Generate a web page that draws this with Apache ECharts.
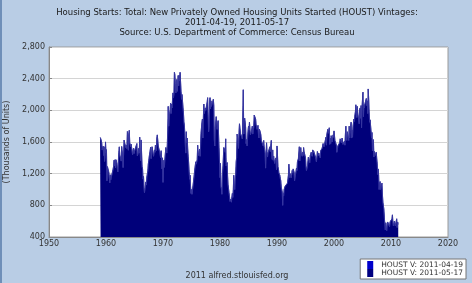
<!DOCTYPE html>
<html><head><meta charset="utf-8">
<script src="https://cdn.jsdelivr.net/npm/echarts@6/dist/echarts.min.js"></script>
<style>html,body{margin:0;padding:0;background:#b9cde5;}#c{width:472px;height:283px;box-sizing:border-box;border-left:2px solid #6f8fb8;}</style>
</head><body><div id="c"></div>
<script>
const titleLines = ["Housing Starts: Total: New Privately Owned Housing Units Started (HOUST) Vintages:", "2011-04-19, 2011-05-17", "Source: U.S. Department of Commerce: Census Bureau"];
const yAxisName = "(Thousands of Units)";
const footer = "2011 alfred.stlouisfed.org";
const seriesNames = ["HOUST V: 2011-04-19", "HOUST V: 2011-05-17"];
const xTicks = [1950, 1960, 1970, 1980, 1990, 2000, 2010, 2020];
const yTicks = [400, 800, 1200, 1600, 2000, 2400, 2800];
const startYear = 1959;
// monthly values, thousands of units (one row per year)
const monthly = [
1657,1667,1620,1590,1498,1503,1547,1430,1540,1355,1416,1601,
1460,1503,1109,1289,1266,1260,1215,1221,1084,1186,1122,1108,
1178,1198,1230,1240,1292,1370,1300,1376,1273,1376,1380,1327,
1259,1223,1359,1470,1539,1438,1440,1462,1359,1543,1524,1434,
1277,1435,1624,1593,1588,1570,1528,1561,1517,1733,1704,1496,
1688,1747,1592,1571,1540,1573,1556,1481,1440,1493,1520,1454,
1437,1505,1482,1486,1486,1580,1424,1422,1465,1520,1460,1661,
1461,1364,1626,1447,1290,1260,1131,1164,1027,960,984,978,
1096,1056,1160,1176,1235,1320,1365,1415,1422,1425,1535,1390,
1400,1540,1500,1520,1420,1450,1500,1470,1560,1580,1490,1650,
1690,1710,1550,1560,1550,1470,1470,1400,1490,1380,1260,1400,
1090,1270,1370,1280,1390,1380,1530,1540,1460,1560,1750,2050,
1800,1800,1960,2010,2090,1960,2080,2030,2050,2220,2160,2200,
2480,2450,2340,2220,2250,2390,2240,2340,2440,2310,2440,2370,
2480,2460,2240,2140,2200,2180,2190,1970,1860,1810,1700,1560,
1460,1730,1590,1650,1520,1420,1340,1230,1130,1180,1040,950,
1000,940,990,990,1090,1090,1200,1260,1250,1350,1320,1300,
1380,1560,1460,1430,1480,1510,1420,1530,1710,1720,1850,1890,
1650,1920,2080,1960,1960,2030,2000,2010,2070,2110,2160,2170,
1730,1780,2090,2160,2020,2120,2050,2030,2070,2070,2140,2060,
1630,1550,1780,1790,1920,1910,1760,1760,1870,1690,1530,1530,
1150,1330,1040,1010,940,1180,1270,1390,1530,1520,1530,1470,
1640,1300,1310,1340,1170,1060,1040,960,910,850,870,880,
840,910,950,900,1000,1180,1050,1000,1120,1190,1350,1400,
1700,1710,1610,1520,1720,1830,1780,1710,1690,1710,1730,1640,
1940,2260,1700,1860,1900,1850,1780,1580,1630,1550,1650,1740,
1800,1750,1850,1850,1690,1710,1730,1720,1800,1700,1750,1780,
1940,1960,1920,1890,1820,1800,1760,1740,1810,1690,1650,1760,
1770,1720,1690,1620,1640,1610,1620,1550,1620,1540,1540,1460,
1270,1460,1590,1480,1410,1460,1440,1460,1450,1540,1480,1560,
1620,1420,1380,1500,1370,1420,1370,1330,1370,1350,1400,1250,
1550,1440,1290,1260,1210,1230,1180,1140,1110,1030,1030,970,
800,950,920,1000,1000,1040,1040,1050,1030,1050,1080,1090,
1180,1320,1230,1150,1200,1200,1150,1190,1240,1210,1260,1280,
1220,1110,1110,1190,1230,1270,1240,1350,1330,1390,1400,1540,
1360,1380,1530,1460,1460,1420,1470,1430,1530,1480,1470,1460,
1400,1300,1240,1260,1290,1290,1410,1400,1400,1340,1430,1420,
1470,1480,1420,1500,1460,1490,1480,1490,1510,1410,1380,1350,
1360,1480,1500,1430,1460,1430,1450,1400,1490,1480,1490,1520,
1530,1580,1580,1540,1560,1600,1590,1660,1560,1700,1680,1760,
1760,1710,1780,1570,1650,1580,1680,1640,1600,1610,1690,1660,
1740,1680,1620,1620,1600,1560,1470,1500,1550,1550,1530,1540,
1590,1640,1640,1620,1590,1650,1630,1570,1560,1560,1610,1560,
1700,1800,1650,1620,1730,1690,1660,1620,1800,1650,1730,1790,
1850,1650,1750,1660,1800,1840,1890,1860,1940,1980,2070,2050,
1910,2050,1970,1960,1980,1830,2000,2030,1900,2060,1780,2040,
2140,2230,1920,2070,2030,2080,2060,2100,2150,2060,2120,1960,
2270,2150,1980,1850,1880,1810,1740,1650,1720,1490,1570,1630,
1410,1480,1490,1490,1430,1470,1390,1330,1190,1260,1180,1000,
1070,1100,1000,1010,980,1080,930,840,820,750,650,560,
490,580,520,480,550,590,590,600,590,530,590,580,
610,600,630,680,590,540,550,600,600,540,550,520,
630,520,590,560
];
const data = monthly.map((v, i) => [startYear + i / 12, v]);
const chart = echarts.init(document.getElementById('c'), null, {renderer: 'canvas'});
const font = 'DejaVu Sans';
chart.setOption({
  animation: false,
  backgroundColor: '#b9cde5',
  title: {
    text: titleLines.join('\n'), left: 'center', top: 3,
    textStyle: {fontFamily: font, fontSize: 8.5, fontWeight: 'normal', color: '#1a1a1a', lineHeight: 10}
  },
  grid: {left: 47, right: 24, top: 47, bottom: 46, outerBoundsMode: 'none', containLabel: false, show: true, backgroundColor: '#fff', borderColor: '#9a9a9a', borderWidth: 1},
  xAxis: {
    type: 'value', min: xTicks[0], max: xTicks[xTicks.length - 1], interval: 10,
    axisLine: {lineStyle: {color: '#888'}}, axisTick: {show: false}, splitLine: {show: false},
    axisLabel: {fontFamily: font, fontSize: 8, color: '#333', margin: 3, formatter: v => String(v)}
  },
  yAxis: {
    type: 'value', min: yTicks[0], max: yTicks[yTicks.length - 1], interval: 400,
    name: yAxisName, nameLocation: 'middle', nameGap: 33, nameRotate: 90,
    nameTextStyle: {fontFamily: font, fontSize: 8, color: '#333'},
    axisLine: {show: true, lineStyle: {color: '#888'}}, axisTick: {show: true, length: 3, inside: true, lineStyle: {color: '#888'}},
    splitLine: {lineStyle: {color: '#d4d4d4', width: 1}},
    axisLabel: {fontFamily: font, fontSize: 8, color: '#333', margin: 4, formatter: v => v.toLocaleString('en-US')}
  },
  legend: {
    orient: 'vertical', right: 6, bottom: 4, itemWidth: 6, itemHeight: 8, itemGap: 0,
    backgroundColor: '#fff', borderColor: '#777', borderWidth: 1, padding: [2, 3, 2, 7],
    textStyle: {fontFamily: font, fontSize: 7.5, color: '#333', padding: [0, 0, 0, 3]},
    data: seriesNames.map(n => ({name: n, icon: 'rect'}))
  },
  graphic: [{type: 'text', left: 'center', bottom: 3, style: {text: footer, font: '8px "DejaVu Sans"', fill: '#333'}}],
  series: seriesNames.map((n, k) => ({
    name: n, type: 'line', data: data, showSymbol: false, symbol: 'none',
    color: k === 0 ? '#0000cc' : '#000080',
    lineStyle: {color: '#3535a0', width: 0.8},
    areaStyle: {color: '#00007a', opacity: 1, origin: 'start'}
  }))
});
</script></body></html>
